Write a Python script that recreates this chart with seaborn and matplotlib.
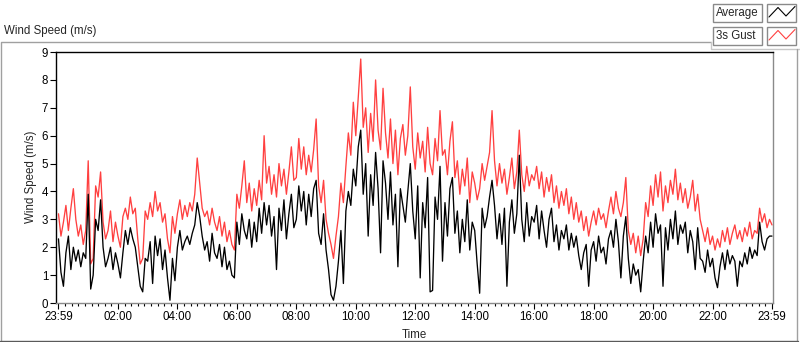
import matplotlib
matplotlib.use("Agg")
import matplotlib.pyplot as plt
from matplotlib.lines import Line2D
from matplotlib.patches import Rectangle
from matplotlib.ticker import FixedLocator, MultipleLocator
import seaborn as sns
import numpy as np
import pandas as pd

# %% data: one value every 5 minutes (one row per hour)
gust = [
    3.2, 2.4, 2.9, 3.5, 2.6, 3.4, 4.1, 3.0, 2.4, 2.8, 2.1, 2.6,
    5.1, 1.4, 1.6, 4.2, 3.8, 4.7, 2.9, 2.3, 2.6, 3.3, 2.2, 2.9,
    2.4, 2.0, 3.1, 3.4, 3.0, 3.8, 3.2, 3.4, 2.3, 1.4, 1.6, 3.3,
    3.0, 3.6, 3.1, 4.0, 3.3, 3.6, 2.9, 3.2, 2.3, 1.8, 3.1, 2.5,
    3.2, 3.7, 3.0, 3.5, 3.1, 3.6, 3.3, 3.9, 5.2, 4.3, 3.4, 3.1,
    3.3, 2.8, 3.4, 2.9, 2.6, 3.1, 2.4, 2.9, 2.2, 2.6, 2.1, 1.9,
    3.9, 3.4, 4.2, 5.1, 3.6, 4.3, 3.3, 4.1, 3.5, 4.4, 3.7, 6.0,
    4.3, 4.9, 3.9, 4.6, 3.8, 5.0, 4.2, 4.8, 3.9, 4.7, 5.6, 4.4,
    4.5, 5.9, 4.8, 5.6, 4.6, 5.3, 4.7, 5.5, 6.6, 4.2, 3.6, 4.4,
    3.0, 2.5, 2.1, 1.6, 2.4, 3.1, 4.3, 3.6, 4.9, 6.1, 5.3, 7.2,
    6.0, 7.4, 8.75, 6.3, 7.0, 5.4, 6.8, 5.8, 8.0, 6.2, 5.5, 7.7,
    6.1, 5.2, 6.6, 5.0, 6.2, 4.6, 5.9, 6.4, 5.3, 6.0, 7.75, 5.6,
    4.8, 6.1, 5.2, 5.8, 4.7, 6.3, 5.0, 4.6, 5.9, 5.1, 6.9, 5.3,
    5.5, 4.6, 5.8, 6.5, 4.5, 5.1, 3.9, 4.8, 4.2, 5.2, 3.6, 4.7,
    4.3, 3.7, 4.1, 5.0, 4.4, 4.9, 5.4, 6.9, 5.1, 4.2, 5.0, 4.3,
    4.8, 3.9, 4.5, 5.2, 4.1, 4.7, 6.2, 4.6, 4.0, 4.9, 4.2, 4.6,
    4.4, 4.9, 4.1, 4.7, 3.8, 4.5, 4.0, 4.6, 3.6, 4.2, 3.4, 4.0,
    3.5, 4.1, 3.2, 3.8, 3.0, 3.6, 2.9, 3.3, 2.6, 3.1, 2.4, 2.9,
    3.3, 2.8, 3.4, 3.0, 3.2, 2.7, 3.3, 3.8, 3.2, 4.0, 3.4, 3.1,
    3.6, 4.5, 2.6, 2.1, 2.5, 1.8, 2.4, 1.7, 2.3, 3.6, 3.1, 4.2,
    3.5, 4.6, 3.8, 4.7, 3.3, 4.2, 3.6, 4.4, 3.9, 4.8, 3.7, 4.3,
    3.6, 4.1, 3.4, 3.8, 4.4, 3.3, 3.9, 3.0, 2.6, 2.2, 2.7, 2.1,
    2.4, 1.9, 2.3, 2.0, 2.6, 2.2, 2.7, 2.1, 2.5, 2.8, 2.3, 2.6,
    2.2, 2.7, 2.4, 2.9, 2.3, 2.6, 2.5, 3.4, 2.9, 3.2, 2.7, 3.0, 2.8,
]
average = [
    2.3, 1.1, 0.6, 1.8, 2.4, 1.2, 2.0, 1.5, 1.9, 1.3, 1.8, 1.6,
    3.9, 0.5, 1.0, 3.0, 2.6, 3.7, 2.0, 1.3, 1.6, 2.0, 1.2, 1.8,
    1.4, 0.9, 1.8, 2.6, 2.1, 2.7, 2.3, 2.0, 1.3, 0.6, 0.4, 1.6,
    1.5, 2.2, 0.7, 2.4, 1.7, 2.3, 1.2, 1.9, 0.9, 0.1, 1.6, 0.8,
    2.0, 2.6, 1.9, 2.2, 2.4, 2.1, 2.5, 2.8, 3.6, 3.1, 2.4, 1.9,
    2.2, 1.5, 2.5, 1.8, 1.6, 2.1, 1.3, 2.0, 1.2, 1.5, 1.0, 0.9,
    2.9, 2.1, 3.2, 2.6, 2.3, 3.0, 2.0, 2.9, 2.2, 3.4, 2.5, 3.6,
    2.8, 3.5, 2.4, 3.1, 1.2, 3.4, 2.6, 3.7, 2.3, 3.2, 3.9, 2.7,
    3.0, 4.2, 3.3, 4.0, 2.8, 3.9, 3.1, 4.1, 4.4, 2.5, 2.1, 3.2,
    1.9, 1.2, 0.3, 0.1, 0.6, 1.5, 2.6, 0.7, 3.3, 4.0, 3.5, 4.8,
    4.2, 5.6, 6.2, 3.9, 5.0, 2.4, 4.6, 3.5, 5.4, 4.1, 1.8, 5.1,
    4.3, 3.0, 4.7, 2.8, 3.9, 1.3, 4.1, 3.5, 2.9, 4.0, 5.0, 3.3,
    2.3, 4.2, 0.9, 3.6, 2.7, 4.5, 0.4, 0.45, 3.8, 3.0, 4.9, 1.5,
    3.6, 2.4, 4.1, 4.5, 2.5, 3.3, 1.8, 3.0, 2.2, 3.7, 1.9, 2.9,
    2.6, 1.4, 0.35, 3.4, 2.7, 3.1, 3.8, 4.4, 3.5, 2.3, 3.2, 2.1,
    3.4, 0.6, 2.9, 3.7, 2.5, 3.2, 5.3, 3.0, 2.2, 3.6, 2.4, 3.1,
    2.9, 3.5, 2.3, 3.3, 2.6, 2.0, 3.0, 3.4, 2.2, 2.8, 1.9, 2.6,
    2.3, 2.8, 1.9, 2.5, 2.0, 2.4, 1.7, 1.2, 1.8, 2.1, 0.6, 1.9,
    2.2, 1.5, 2.4, 1.8, 2.0, 1.4, 2.3, 2.6, 2.0, 3.0, 2.2, 0.9,
    2.4, 3.1, 1.6, 0.7, 1.4, 1.0, 1.2, 0.4, 1.5, 2.4, 1.8, 2.9,
    2.0, 3.2, 2.5, 2.8, 0.6, 2.7, 1.9, 3.0, 2.3, 3.3, 2.1, 2.8,
    2.5, 2.9, 1.8, 2.6, 2.2, 1.2, 2.7, 1.6, 1.5, 1.1, 1.9, 1.3,
    1.6, 0.9, 0.55, 1.3, 1.8, 1.2, 1.9, 1.4, 1.7, 1.5, 0.6, 1.5,
    1.3, 1.8, 1.4, 2.0, 1.6, 1.9, 1.7, 2.9, 2.2, 1.9, 2.3, 2.4, 2.4,
]
minutes = np.arange(0, 1441, 5)
tick_minutes = [0, 120, 240, 360, 480, 600, 720, 840, 960, 1080, 1200, 1320, 1440]
tick_labels = ["23:59", "02:00", "04:00", "06:00", "08:00", "10:00", "12:00",
               "14:00", "16:00", "18:00", "20:00", "22:00", "23:59"]
series_names = ["Average", "3s Gust"]
series_colors = ["#000000", "#ff4040"]

df = pd.DataFrame({"minute": minutes, "Average": average, "3s Gust": gust})
df = pd.melt(df, id_vars=["minute"], var_name="series", value_name="speed")

# %% plot
sns.set_style("white")
plt.rcParams["font.family"] = ["Liberation Sans", "DejaVu Sans"]
plt.rcParams["font.size"] = 8

W, H = 800, 342
fig = plt.figure(figsize=(W / 100, H / 100), dpi=100)
ax = fig.add_axes([56.5 / W, 1 - 303 / H, (772.5 - 56.5) / W, (303 - 51.5) / H])

# gust drawn first so the average sits on top
sns.lineplot(data=df, x="minute", y="speed", hue="series",
             hue_order=series_names[::-1], palette=series_colors[::-1],
             estimator=None, linewidth=0.95, legend=False, ax=ax)

ax.set_xlim(-4, 1441)
ax.set_ylim(0, 9.02)
ax.xaxis.set_major_locator(FixedLocator(tick_minutes))
ax.set_xticklabels(tick_labels)
ax.xaxis.set_minor_locator(MultipleLocator(120 / 9))
ax.yaxis.set_major_locator(MultipleLocator(1))
ax.tick_params(axis="both", which="major", direction="out", length=4.5, width=0.8,
               color="black", labelsize=8.3, labelcolor="black", pad=1.5,
               bottom=True, left=True)
ax.tick_params(axis="x", which="minor", direction="out", length=2.5, width=0.8,
               color="black", bottom=True)
ax.set_xlabel("Time", fontsize=8.3, labelpad=4)
ax.set_ylabel("Wind Speed (m/s)", fontsize=8.3, labelpad=3)

for side in ["top", "left"]:
    ax.spines[side].set_color("black")
    ax.spines[side].set_linewidth(1.0)
for side in ["right", "bottom"]:
    ax.spines[side].set_color("#8a8a8a")
    ax.spines[side].set_linewidth(1.0)


# LabVIEW style frame, title and plot legend, in pixel coords
def px(x, y):
    return x / W, 1 - y / H


def frame_line(xs, ys, color="#a0a0a0", lw=1.0):
    pts = [px(x, y) for x, y in zip(xs, ys)]
    fig.add_artist(Line2D([p[0] for p in pts], [p[1] for p in pts],
                          color=color, linewidth=lw, transform=fig.transFigure))


frame_line([1, 1, 711], [341, 42, 42])
frame_line([711, 711, 800], [42, 49, 49], color="#c8c8c8")
frame_line([797, 797], [49, 341], color="#a0a0a0")
frame_line([0, 798], [341, 341], color="#5a5a5a")

fig.text(*px(4, 31), "Wind Speed (m/s)", fontsize=8.3, va="center", ha="left")

for i, (name, color) in enumerate(zip(series_names, series_colors)):
    top = 4 + 23 * i
    x0, y0 = px(713, top + 17.5)
    fig.add_artist(Rectangle((x0, y0), 49 / W, 17.5 / H, transform=fig.transFigure,
                             facecolor="white", edgecolor="#8a8a8a", linewidth=1.0))
    x0, y0 = px(767, top + 17.5)
    fig.add_artist(Rectangle((x0, y0), 29 / W, 17.5 / H, transform=fig.transFigure,
                             facecolor="white", edgecolor="#8a8a8a", linewidth=1.0))
    fig.text(*px(715.5, top + 9), name, fontsize=8.3, va="center", ha="left")
    frame_line([769, 778, 786, 795], [top + 13, top + 3.5, top + 12, top + 2.5],
               color=color, lw=0.8)

fig.savefig("out.png", dpi=100)
